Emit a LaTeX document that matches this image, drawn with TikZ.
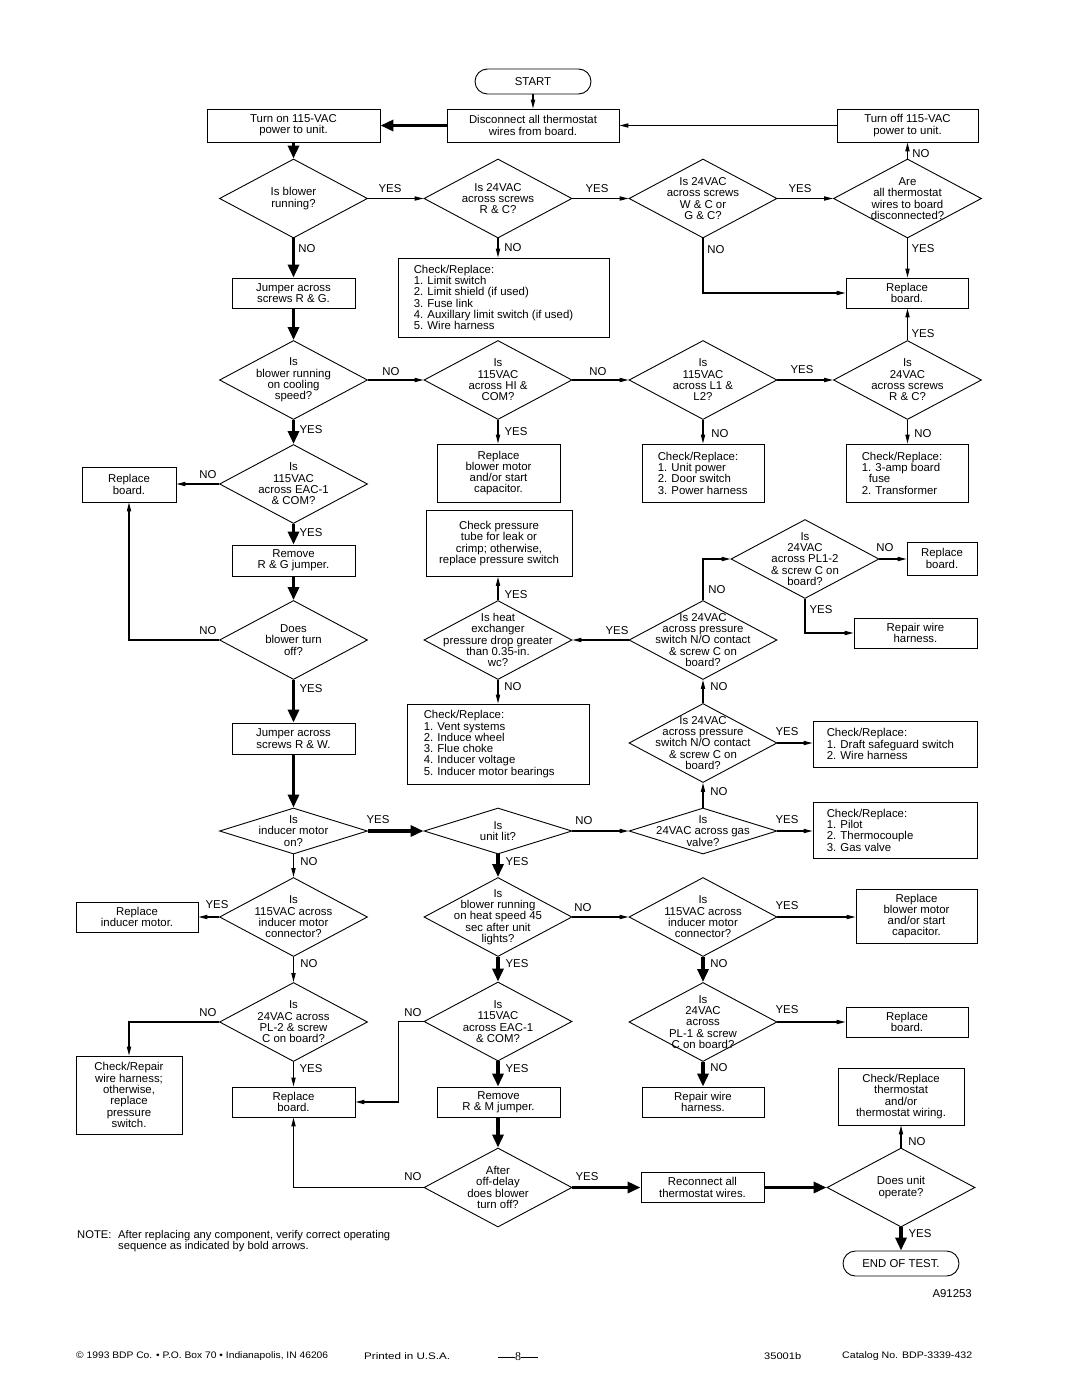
\documentclass[tikz,border=0pt]{standalone}
\usepackage{fontspec}
\usepackage{graphicx}
\setmainfont{Liberation Sans}
\newfontfamily\serifnum{Liberation Serif}
\usetikzlibrary{shapes.geometric,arrows.meta}
\tikzset{
  every node/.style={font=\fontsize{11.4}{11.3}\selectfont},
  box/.style 2 args={draw, line width=0.9pt, align=center, inner sep=0pt, minimum width=#1, minimum height=#2},
  term/.style 2 args={box={#1}{#2}, rounded corners=12.5pt},
  dia/.style={diamond, draw, line width=0.9pt, inner sep=0pt, minimum width=148pt, minimum height=79pt},
  flatdia/.style={dia, minimum height=46pt},
  dtext/.style={align=center, inner sep=0pt},
  ltext/.style={align=left, inner sep=0pt, anchor=west},
  lbl/.style={inner sep=0pt},
  tarr/.style={line width=1.1pt, -{Triangle[length=9pt,width=4.2pt]}},
  barr/.style={line width=3.6pt, -{Triangle[length=13pt,width=11pt]}},
}
\newcommand\Dnode[4][dia]{\node[#1] (#2) at (#3) {};\node[dtext] (#2t) at (#2.center) {#4};}
\begin{document}
\begin{tikzpicture}[x=1pt,y=-1pt]
\useasboundingbox (0,0) rectangle (1080,1397);
\fill[white] (0,0) rectangle (1080,1397);

% ---------- row 1 ----------
\node[term={116pt}{25pt}] (start) at (533,81.5) {START};
\node[box={172pt}{33pt}] (disc) at (533,125.5) {Disconnect all thermostat\\wires from board.};
\node[box={173pt}{33pt}] (turnon) at (293.5,125.5) {Turn on 115-VAC\\power to unit.};
\node[box={141pt}{33pt}] (turnoff) at (907.5,125.5) {Turn off 115-VAC\\power to unit.};

% ---------- row 2 ----------
\Dnode{d1}{293.5,198.5}{Is blower\\running?}
\Dnode{d2}{498,198.5}{Is 24VAC\\across screws\\R \& C?}
\Dnode{d3}{703,198.5}{Is 24VAC\\across screws\\W \& C or\\G \& C?}
\Dnode{d4}{907.5,198.5}{Are\\all thermostat\\wires to board\\disconnected?}

% ---------- row 3 ----------
\node[box={122pt}{30pt}] (repb1) at (907,293) {Replace\\board.};
\node[box={123pt}{30pt}] (jumpRG) at (293.5,293) {Jumper across\\screws R \& G.};
\node[box={211pt}{79pt}] (limit) at (503.5,297.5) {};
\node[ltext] (limitt) at ([xshift=16pt]limit.west) {Check/Replace:\\1. Limit switch\\2. Limit shield (if used)\\3. Fuse link\\4. Auxillary limit switch (if used)\\5. Wire harness};

% ---------- row 4 ----------
\Dnode{d5}{293.5,380}{Is\\blower running\\on cooling\\speed?}
\Dnode{d6}{498,380}{Is\\115VAC\\across HI \&\\COM?}
\Dnode{d7}{703,380}{Is\\115VAC\\across L1 \&\\L2?}
\Dnode{d8}{907.5,380}{Is\\24VAC\\across screws\\R \& C?}

% ---------- row 5 ----------
\node[box={123pt}{58pt}] (rbm1) at (498.5,473) {Replace\\blower motor\\and/or start\\capacitor.};
\node[box={122pt}{58pt}] (unitpow) at (703,473) {};
\node[ltext] (unitpowt) at ([xshift=16pt]unitpow.west) {Check/Replace:\\1. Unit power\\2. Door switch\\3. Power harness};
\node[box={122pt}{58pt}] (amp) at (907,473) {};
\node[ltext] (ampt) at ([xshift=16pt]amp.west) {Check/Replace:\\1. 3-amp board\\\hspace*{7pt}fuse\\2. Transformer};
\Dnode{d9}{293.5,484}{Is\\115VAC\\across EAC-1\\\& COM?}
\node[box={94pt}{35pt}] (repb2) at (129,484.5) {Replace\\board.};
\node[box={123pt}{31pt}] (remRG) at (293.5,560.5) {Remove\\R \& G jumper.};
\node[box={146pt}{66pt}] (chkpt) at (499,543.5) {Check pressure\\tube for leak or\\crimp; otherwise,\\replace pressure switch};

% ---------- pressure section ----------
\Dnode{pl12}{805,559}{Is\\24VAC\\across PL1-2\\\& screw C on\\board?}
\node[box={70pt}{33pt}] (repb3) at (942,558.5) {Replace\\board.};
\node[box={123pt}{30pt}] (repw1) at (915.5,633) {Repair wire\\harness.};
\Dnode{dps1}{703,640}{Is 24VAC\\across pressure\\switch N/O contact\\\& screw C on\\board?}
\Dnode{dhx}{498,640}{Is heat\\exchanger\\pressure drop greater\\than 0.35-in.\\wc?}
\Dnode{dboff}{293.5,640}{Does\\blower turn\\off?}
\node[box={182pt}{80pt}] (vent) at (498,744) {};
\node[ltext] (ventt) at ([xshift=17pt]vent.west) {Check/Replace:\\1. Vent systems\\2. Induce wheel\\3. Flue choke\\4. Inducer voltage\\5. Inducer motor bearings};
\Dnode{dps2}{703,743}{Is 24VAC\\across pressure\\switch N/O contact\\\& screw C on\\board?}
\node[box={164pt}{46pt}] (draft) at (895,744) {};
\node[ltext] (draftt) at ([xshift=14pt]draft.west) {Check/Replace:\\1. Draft safeguard switch\\2. Wire harness};
\node[box={123pt}{31pt}] (jumpRW) at (293.5,738.5) {Jumper across\\screws R \& W.};

% ---------- row inducer ----------
\Dnode[flatdia]{dind}{293.5,831}{Is\\inducer motor\\on?}
\Dnode[flatdia]{dlit}{498,831}{Is\\unit lit?}
\Dnode[flatdia]{dgas}{703,831}{Is\\24VAC across gas\\valve?}
\node[box={164pt}{56pt}] (pilot) at (895,830) {};
\node[ltext] (pilott) at ([xshift=14pt]pilot.west) {Check/Replace:\\1. Pilot\\2. Thermocouple\\3. Gas valve};

% ---------- lower rows ----------
\Dnode{d115L}{293.5,917}{Is\\115VAC across\\inducer motor\\connector?}
\node[box={122pt}{30pt}] (repind) at (137,917) {Replace\\inducer motor.};
\Dnode{d24L}{293.5,1022}{Is\\24VAC across\\PL-2 \& screw\\C on board?}
\node[box={106pt}{78pt}] (chkrep) at (129,1095) {Check/Repair\\wire harness;\\otherwise,\\replace\\pressure\\switch.};
\node[box={123pt}{30pt}] (repb4) at (293.5,1102) {Replace\\board.};
\Dnode{dheat}{498,917}{Is\\blower running\\on heat speed 45\\sec after unit\\lights?}
\Dnode{deac2}{498,1021.5}{Is\\115VAC\\across EAC-1\\\& COM?}
\node[box={123pt}{30pt}] (remRM) at (498.5,1102) {Remove\\R \& M jumper.};
\Dnode{doff}{498,1187.5}{After\\off-delay\\does blower\\turn off?}
\Dnode{d115R}{703,917}{Is\\115VAC across\\inducer motor\\connector?}
\node[box={121pt}{54pt}] (rbm2) at (916.5,916) {Replace\\blower motor\\and/or start\\capacitor.};
\Dnode{dpl1}{703,1022}{Is\\24VAC\\across\\PL-1 \& screw\\C on board?}
\node[box={122pt}{30pt}] (repb5) at (907,1022) {Replace\\board.};
\node[box={122pt}{30pt}] (repw2) at (703,1102) {Repair wire\\harness.};
\node[box={126pt}{57pt}] (thermo) at (901,1096.5) {Check/Replace\\thermostat\\and/or\\thermostat wiring.};
\node[box={123pt}{30pt}] (reconn) at (702.5,1187.5) {Reconnect all\\thermostat wires.};
\Dnode{dop}{901,1187.5}{Does unit\\operate?}
\node[term={116pt}{25pt}] (endt) at (901,1263.5) {END OF TEST.};

% ---------- connectors ----------
\draw[tarr] (start.south) -- (disc.north);
\draw[barr] (disc.west) -- (turnon.east);
\draw[tarr] (turnoff.west) -- (disc.east);
\draw[barr] (turnon.south) -- (d1.north);
\draw[tarr] (d1.east) -- (d2.west);
\draw[tarr] (d2.east) -- (d3.west);
\draw[tarr] (d3.east) -- (d4.west);
\draw[tarr] (d4.north) -- (d4.north |- turnoff.south);
\draw[tarr] (d4.south) -- (d4.south |- repb1.north);
\draw[tarr] (d3.south) |- (repb1.west);
\draw[tarr] (d2.south) -- (d2.south |- limit.north);
\draw[barr] (d1.south) -- (jumpRG.north);
\draw[barr] (jumpRG.south) -- (d5.north);
\draw[tarr] (d5.east) -- (d6.west);
\draw[tarr] (d6.east) -- (d7.west);
\draw[tarr] (d7.east) -- (d8.west);
\draw[tarr] (d8.north) -- (d8.north |- repb1.south);
\draw[tarr] (d6.south) -- (d6.south |- rbm1.north);
\draw[tarr] (d7.south) -- (d7.south |- unitpow.north);
\draw[tarr] (d8.south) -- (d8.south |- amp.north);
\draw[barr] (d5.south) -- (d9.north);
\draw[tarr] (d9.west) -- (d9.west -| repb2.east);
\draw[barr] (d9.south) -- (remRG.north);
\draw[barr] (remRG.south) -- (dboff.north);
\draw[tarr] (dboff.west) -| (repb2.south);
\draw[barr] (dboff.south) -- (jumpRW.north);
\draw[barr] (jumpRW.south) -- (dind.north);
\draw[barr] (dind.east) -- (dlit.west);
\draw[tarr] (dlit.east) -- (dgas.west);
\draw[tarr] (dgas.north) -- (dps2.south);
\draw[tarr] (dgas.east) -- (dgas.east -| pilot.west);
\draw[tarr] (dps2.north) -- (dps1.south);
\draw[tarr] (dps2.east) -- (dps2.east -| draft.west);
\draw[tarr] (dps1.west) -- (dhx.east);
\draw[tarr] (dps1.north) |- (pl12.west);
\draw[tarr] (pl12.east) -- (pl12.east -| repb3.west);
\draw[tarr] (pl12.south) |- (repw1.west);
\draw[tarr] (dhx.north) -- (dhx.north |- chkpt.south);
\draw[tarr] (dhx.south) -- (dhx.south |- vent.north);
\draw[barr] (dlit.south) -- (dheat.north);
\draw[tarr] (dind.south) -- (d115L.north);
\draw[tarr] (d115L.west) -- (repind.east);
\draw[tarr] (d115L.south) -- (d24L.north);
\draw[tarr] (d24L.west) -| (chkrep.north);
\draw[tarr] (d24L.south) -- (repb4.north);
\draw[tarr] (dheat.east) -- (d115R.west);
\draw[barr] (dheat.south) -- (deac2.north);
\draw[tarr] (deac2.west) -- ++(-25,0) |- (repb4.east);
\draw[barr] (deac2.south) -- (deac2.south |- remRM.north);
\draw[barr] (remRM.south -| doff.north) -- (doff.north);
\draw[tarr] (doff.west) -| (repb4.south);
\draw[barr] (doff.east) -- (reconn.west);
\draw[barr] (reconn.east) -- (dop.west);
\draw[tarr] (dop.north) -- (thermo.south);
\draw[barr] (dop.south) -- (endt.north);
\draw[tarr] (d115R.east) -- (d115R.east -| rbm2.west);
\draw[barr] (d115R.south) -- (dpl1.north);
\draw[tarr] (dpl1.east) -- (repb5.west);
\draw[barr] (dpl1.south) -- (repw2.north);

% ---------- connector labels ----------
\node[lbl] (l1) at (390,189) {YES};
\node[lbl] (l2) at (597,189) {YES};
\node[lbl] (l3) at (800,189) {YES};
\node[lbl] (l4) at (921,154) {NO};
\node[lbl] (l5) at (923,249) {YES};
\node[lbl] (l6) at (716,250) {NO};
\node[lbl] (l7) at (513,248) {NO};
\node[lbl] (l8) at (307,249) {NO};
\node[lbl] (l9) at (391,372) {NO};
\node[lbl] (l10) at (598,372) {NO};
\node[lbl] (l11) at (802,370) {YES};
\node[lbl] (l12) at (923,334) {YES};
\node[lbl] (l13) at (516,432) {YES};
\node[lbl] (l14) at (720,434) {NO};
\node[lbl] (l15) at (923,434) {NO};
\node[lbl] (l16) at (311,430) {YES};
\node[lbl] (l17) at (208,475) {NO};
\node[lbl] (l18) at (311,533) {YES};
\node[lbl] (l19) at (208,631) {NO};
\node[lbl] (l20) at (885,548) {NO};
\node[lbl] (l21) at (717,590) {NO};
\node[lbl] (l22) at (821,610) {YES};
\node[lbl] (l23) at (617,631) {YES};
\node[lbl] (l24) at (516,595) {YES};
\node[lbl] (l25) at (513,687) {NO};
\node[lbl] (l26) at (719,687) {NO};
\node[lbl] (l27) at (787,732) {YES};
\node[lbl] (l28) at (719,792) {NO};
\node[lbl] (l29) at (787,820) {YES};
\node[lbl] (l30) at (584,821) {NO};
\node[lbl] (l31) at (378,820) {YES};
\node[lbl] (l32) at (517,862) {YES};
\node[lbl] (l33) at (309,862) {NO};
\node[lbl] (l34) at (311,689) {YES};
\node[lbl] (l35) at (217,905) {YES};
\node[lbl] (l36) at (309,964) {NO};
\node[lbl] (l37) at (208,1013) {NO};
\node[lbl] (l38) at (311,1069) {YES};
\node[lbl] (l39) at (583,908) {NO};
\node[lbl] (l40) at (517,964) {YES};
\node[lbl] (l41) at (413,1013) {NO};
\node[lbl] (l42) at (517,1069) {YES};
\node[lbl] (l43) at (413,1177) {NO};
\node[lbl] (l44) at (587,1177) {YES};
\node[lbl] (l45) at (917,1142) {NO};
\node[lbl] (l46) at (920,1234) {YES};
\node[lbl] (l47) at (787,906) {YES};
\node[lbl] (l48) at (719,964) {NO};
\node[lbl] (l49) at (787,1010) {YES};
\node[lbl] (l50) at (719,1068) {NO};

% ---------- note, id, footer ----------
\node[anchor=north west, align=left, inner sep=0pt, font=\fontsize{11.2}{10.8}\selectfont] (note) at (77,1230)
  {\makebox[41pt][l]{NOTE:}After replacing any component, verify correct operating\\\hspace*{41pt}sequence as indicated by bold arrows.};
\node[anchor=east, inner sep=0pt] (fig) at (972,1294) {A91253};
\node[anchor=west, inner sep=0pt] (f1) at (76,1356) {\resizebox{252pt}{\height}{\fontsize{9.5}{10}\selectfont \textcopyright\ 1993 BDP Co. \textbullet\ P.O. Box 70 \textbullet\ Indianapolis, IN 46206}};
\node[anchor=west, inner sep=0pt] (f2) at (364,1356) {\resizebox{86pt}{\height}{\fontsize{9.5}{10}\selectfont Printed in U.S.A.}};
\node[inner sep=0pt] (f3) at (518,1357) {\serifnum\fontsize{12}{12}\selectfont\rule[3.6pt]{17pt}{0.7pt}8\rule[3.6pt]{17pt}{0.7pt}};
\node[anchor=west, inner sep=0pt] (f4) at (764,1356) {\resizebox{37pt}{\height}{\fontsize{9.5}{10}\selectfont 35001b}};
\node[anchor=west, inner sep=0pt] (f5) at (842,1356) {\resizebox{130pt}{\height}{\fontsize{9.5}{10}\selectfont Catalog No. BDP-3339-432}};
\end{tikzpicture}
\end{document}
